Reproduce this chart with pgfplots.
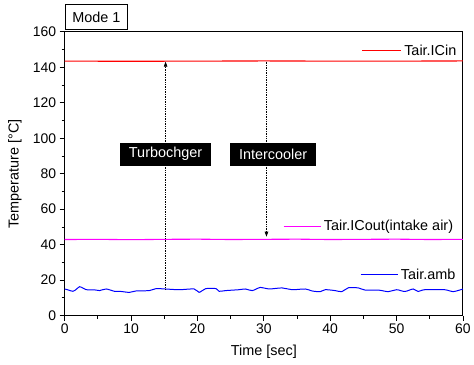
\documentclass[border=0pt]{standalone}
\usepackage{fontspec}
\setmainfont{Liberation Sans}
\usepackage{pgfplots}
\pgfplotsset{compat=1.18}
\usetikzlibrary{arrows.meta}
\definecolor{cRed}{RGB}{255,0,0}
\definecolor{cMag}{RGB}{255,0,255}
\definecolor{cBlue}{RGB}{0,0,255}

\pgfplotstableread{
t v
0 143.5
10 143.4
20 143.5
30 143.6
40 143.5
50 143.5
60 143.6
}\icin
\pgfplotstableread{
t v
0 42.9
5 43.0
10 42.8
15 43.0
20 43.1
25 42.9
30 43.0
35 43.1
40 42.9
45 43.0
50 43.1
55 42.9
60 43.0
}\icout
\pgfplotstableread{
t v
0 15.0
0.5 14.5
1.25 13.7
1.8 15.0
2.25 16.3
2.8 15.4
3.25 14.6
4.5 14.5
5.25 14.1
6.25 15.0
7.5 13.7
8.5 13.6
9.75 13.1
10.75 13.9
12.75 14.1
13.75 15.2
15.15 15.0
17.25 14.6
19.5 15.0
20.25 13.1
21.25 15.2
22.8 15.2
23.25 13.7
24.25 14.1
26.25 14.6
27.25 15.0
28.25 14.1
29.5 15.9
30.75 15.0
32.75 15.6
34.25 14.6
36.25 15.0
37.25 13.9
38.5 13.5
39.25 14.6
40.75 14.1
41.75 13.5
42.75 15.7
44.25 15.6
45.25 14.4
47.25 14.4
48.75 13.5
50 14.6
51.25 13.6
52.5 15.0
53.25 13.6
54.25 14.6
57.25 14.6
58.5 13.5
60 15.0
}\amb

\begin{document}
\begin{tikzpicture}[font=\fontsize{14.5}{17}\selectfont]
\begin{axis}[name=ax, at={(0,0)}, anchor=south west,
  scale only axis, width=400pt, height=285pt,
  xmin=0, xmax=60, ymin=0, ymax=160,
  xtick={0,10,...,60}, ytick={0,20,...,160},
  minor x tick num=1, minor y tick num=1,
  xtick pos=bottom, ytick pos=left, tick align=outside,
  major tick length=5pt, minor tick length=3pt,
  tick style={black, line width=0.8pt},
  axis line style={line width=0.9pt},
  /pgf/number format/assume math mode=true,
  ticklabel style={font=\fontsize{14}{16}\selectfont},
  xlabel={Time [sec]}, ylabel={Temperature [°C]},
  xlabel style={anchor=center, at={(axis description cs:0.5,-0.126)}},
  ylabel style={anchor=center, at={(axis description cs:-0.125,0.5)}},
  clip=false]
\addplot[cRed, line width=1.1pt] table[x=t,y=v] {\icin};
\addplot[cMag, line width=1.1pt] table[x=t,y=v] {\icout};
\addplot[cBlue, line width=1pt, smooth] table[x=t,y=v] {\amb};

\draw[densely dotted, line width=0.7pt, -{Triangle[length=5pt,width=3.5pt]}] (axis cs:15.2,14.8) -- (axis cs:15.2,143.2);
\draw[densely dotted, line width=0.7pt, -{Triangle[length=5pt,width=3.5pt]}] (axis cs:30.4,143.2) -- (axis cs:30.4,44.5);
\node[fill=black, text=white, inner xsep=9pt, minimum height=23pt] at (axis cs:15.2,91) {Turbochger};
\node[fill=black, text=white, inner xsep=9pt, minimum height=23pt] at (axis cs:31.4,91) {Intercooler};

\draw[cRed, line width=1.1pt] (axis cs:44.85,149.4) -- (axis cs:50.7,149.4) node[anchor=west, black, inner sep=2.5pt] {Tair.ICin};
\draw[cMag, line width=1.1pt] (axis cs:33,50) -- (axis cs:38.6,50) node[anchor=west, black, inner sep=2.5pt] {Tair.ICout(intake air)};
\draw[cBlue, line width=1.1pt] (axis cs:44.6,23.3) -- (axis cs:50.2,23.3) node[anchor=west, black, inner sep=2.5pt] {Tair.amb};
\end{axis}
\node[draw, line width=0.6pt, anchor=south west, minimum width=63pt, minimum height=25pt, inner sep=0pt] at ([yshift=2pt]ax.north west) {Mode 1};
\path (ax.south west) ++(-65pt,-49pt) rectangle ++(474pt,366pt);
\end{tikzpicture}
\end{document}
